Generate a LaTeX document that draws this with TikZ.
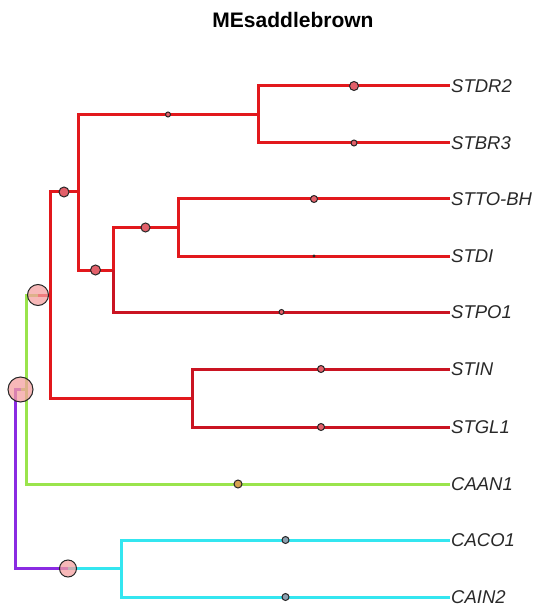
\documentclass[tikz,border=0pt]{standalone}
\usepackage{fontspec}
\setmainfont{Liberation Sans}
\usetikzlibrary{calc}
\definecolor{cladeRed}{RGB}{226,24,28}
\definecolor{cladeRedDark}{RGB}{202,20,34}
\definecolor{cladeGreen}{RGB}{154,228,76}
\definecolor{cladeCyan}{RGB}{52,230,240}
\definecolor{cladePurple}{RGB}{138,43,226}
\definecolor{dotRed}{RGB}{226,96,106}
\definecolor{dotTan}{RGB}{214,162,80}
\definecolor{dotGrey}{RGB}{140,160,176}
\definecolor{bigPink}{RGB}{244,160,160}
\definecolor{labelGrey}{RGB}{40,40,40}
\begin{document}
\begin{tikzpicture}[x=1pt,y=-1pt,
  edge/.style={line width=3pt},
  leaf/.style={anchor=west, inner sep=1pt,
    font=\fontsize{18.5}{20}\selectfont\itshape,
    text height=13.2pt, text depth=0pt, text=labelGrey},
  dot/.style={circle, draw=black!85, line width=1pt, inner sep=0pt,
    minimum size=#1},
  reddot/.style={dot=#1, fill=dotRed},
  tandot/.style={dot=#1, fill=dotTan},
  greydot/.style={dot=#1, fill=dotGrey},
  bigdot/.style={dot=#1, fill=bigPink, fill opacity=0.75},
]
\useasboundingbox (0,0) rectangle (535,609);

% title
\node[font=\fontsize{21}{24}\selectfont\bfseries, anchor=base] (title)
  at (293,28) {MEsaddlebrown};

% tips
\node[leaf] (dr2) at (450,86)  {STDR2};
\node[leaf] (br3) at (450,143) {STBR3};
\node[leaf] (tto) at (450,199) {STTO-BH};
\node[leaf] (tdi) at (450,256) {STDI};
\node[leaf] (po1) at (450,312) {STPO1};
\node[leaf] (tin) at (450,369) {STIN};
\node[leaf] (gl1) at (450,427) {STGL1};
\node[leaf] (an1) at (450,484) {CAAN1};
\node[leaf] (co1) at (450,540) {CACO1};
\node[leaf] (in2) at (450,597) {CAIN2};

% internal nodes
\coordinate (root) at (15,478);
\coordinate (ngreen) at (26,389.5);
\coordinate (nred) at (50,295);
\coordinate (na) at (78,192);
\coordinate (ndr) at (258,114.5);
\coordinate (ntp) at (113,270);
\coordinate (ntb) at (178,227.5);
\coordinate (nin) at (192,398);
\coordinate (nca) at (121,568.5);

% edge midpoints where the colour changes
\coordinate (mg) at ($(root |- ngreen)!0.5!(ngreen)$);
\coordinate (mr) at ($(ngreen |- nred)!0.5!(nred)$);
\coordinate (mc) at ($(root |- nca)!0.5!(nca)$);

% root edges
\draw[edge, cladePurple] (root) |- (mg);
\draw[edge, cladeGreen] (mg) -- (ngreen);
\draw[edge, cladePurple] (root) |- (mc);
\draw[edge, cladeCyan] (mc) -- (nca);

% green clade
\draw[edge, cladeGreen] (ngreen) |- (mr);
\draw[edge, cladeRed] (mr) -- (nred);
\draw[edge, cladeGreen] (ngreen) |- (an1.west);

% red clade
\draw[edge, cladeRed] (nred) |- (na);
\draw[edge, cladeRed] (nred) |- (nin);
\draw[edge, cladeRed] (na) |- (ndr);
\draw[edge, cladeRed] (na) |- (ntp);
\draw[edge, cladeRed] (ndr) |- (dr2.west);
\draw[edge, cladeRed] (ndr) |- (br3.west);
\draw[edge, cladeRed] (ntp) |- (ntb);
\draw[edge, cladeRedDark] (ntp) |- (po1.west);
\draw[edge, cladeRed] (ntb) |- (tto.west);
\draw[edge, cladeRed] (ntb) |- (tdi.west);
\draw[edge, cladeRedDark] (nin) |- (tin.west);
\draw[edge, cladeRedDark] (nin) |- (gl1.west);

% cyan clade
\draw[edge, cladeCyan] (nca) |- (co1.west);
\draw[edge, cladeCyan] (nca) |- (in2.west);

% markers at edge midpoints
\node[bigdot=25pt] (d1) at (mg) {};
\node[bigdot=21pt] (d2) at (mr) {};
\node[bigdot=17pt] (d3) at (mc) {};
\node[reddot=10pt] (d4) at ($(nred |- na)!0.5!(na)$) {};
\node[reddot=10pt] (d5) at ($(na |- ntp)!0.5!(ntp)$) {};
\node[reddot=9pt]  (d6) at ($(ntp |- ntb)!0.5!(ntb)$) {};
\node[reddot=5pt]  (d7) at ($(na |- ndr)!0.5!(ndr)$) {};
\node[reddot=9pt]  (d8) at ($(ndr |- dr2.west)!0.5!(dr2.west)$) {};
\node[reddot=6pt]  (d9) at ($(ndr |- br3.west)!0.5!(br3.west)$) {};
\node[reddot=7pt]  (d10) at ($(ntb |- tto.west)!0.5!(tto.west)$) {};
\node[reddot=2pt]  (d11) at ($(ntb |- tdi.west)!0.5!(tdi.west)$) {};
\node[reddot=5pt]  (d12) at ($(ntp |- po1.west)!0.5!(po1.west)$) {};
\node[reddot=7pt]  (d13) at ($(nin |- tin.west)!0.5!(tin.west)$) {};
\node[reddot=7pt]  (d14) at ($(nin |- gl1.west)!0.5!(gl1.west)$) {};
\node[tandot=8pt]  (d15) at ($(ngreen |- an1.west)!0.5!(an1.west)$) {};
\node[greydot=7pt] (d16) at ($(nca |- co1.west)!0.5!(co1.west)$) {};
\node[greydot=7pt] (d17) at ($(nca |- in2.west)!0.5!(in2.west)$) {};
\end{tikzpicture}
\end{document}
